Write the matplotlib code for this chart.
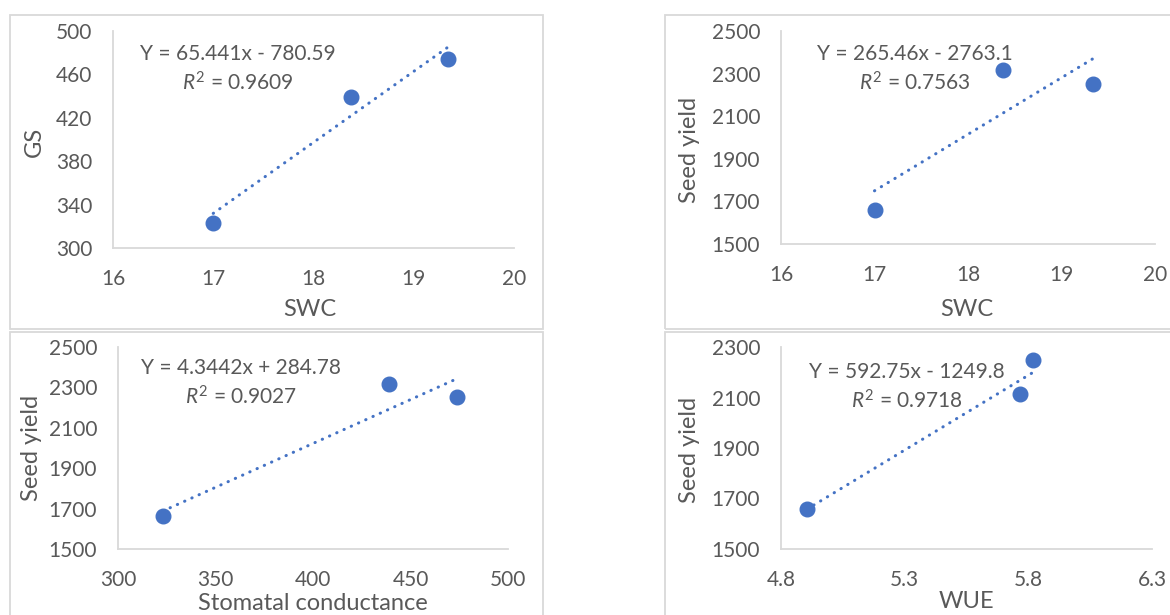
import matplotlib
matplotlib.use('Agg')
import matplotlib.pyplot as plt
from matplotlib.patches import Rectangle
import numpy as np

# values
swc = [17.0, 18.37, 19.34]
gs = [323, 439, 474]
seed_yield = [1661, 2316, 2250]
wue = [4.905, 5.768, 5.818]
seed_yield_wue = [1660, 2115, 2250]

trend_slope = [65.441, 265.46, 4.3442, 592.75]
trend_intercept = [-780.59, -2763.1, 284.78, -1249.8]
eq_labels = ['Y = 65.441x - 780.59', 'Y = 265.46x - 2763.1',
             'Y = 4.3442x + 284.78', 'Y = 592.75x - 1249.8']
r2_labels = ['0.9609', '0.7563', '0.9027', '0.9718']

W, H = 1170, 615
TEXT = '#595959'
GRID = '#D9D9D9'
BLUE = '#4472C4'

plt.rcParams['font.family'] = ['Lato', 'DejaVu Sans']
plt.rcParams['mathtext.fontset'] = 'custom'
plt.rcParams['mathtext.it'] = 'Lato:italic'
plt.rcParams['mathtext.rm'] = 'Lato'

fig = plt.figure(figsize=(W / 100, H / 100), dpi=100)


def fx(x):
    return x / W


def fy(y):
    return 1 - y / H


def box(l, t, r, b):
    fig.patches.append(Rectangle((fx(l), fy(b)), fx(r - l), (b - t) / H,
                                 transform=fig.transFigure, fill=False,
                                 edgecolor=GRID, lw=1.3))


def panel(rect, x, y, xlim, xticks, ylim, yticks, i, eq_pos, xlabel, xlab_pos):
    l, t, r, b = rect
    ax = fig.add_axes([fx(l), fy(b), fx(r - l), (b - t) / H])
    ax.plot(x, y, 'o', color=BLUE, markersize=10.5, zorder=3, clip_on=False)
    xs = np.array([min(x), max(x)])
    ax.plot(xs, trend_slope[i] * xs + trend_intercept[i], color=BLUE, lw=2.2,
            linestyle=(0, (0.1, 2.5)), dash_capstyle='round', zorder=2)
    ax.set_xlim(*xlim)
    ax.set_ylim(*ylim)
    ax.set_xticks(xticks)
    ax.set_yticks(yticks)
    ax.tick_params(length=0, labelsize=15, labelcolor=TEXT)
    ax.tick_params(axis='x', pad=15)
    ax.tick_params(axis='y', pad=15)
    for s in ['top', 'right']:
        ax.spines[s].set_visible(False)
    for s in ['left', 'bottom']:
        ax.spines[s].set_color(GRID)
        ax.spines[s].set_linewidth(1.3)
    ex, ey = eq_pos
    fig.text(fx(ex), fy(ey), eq_labels[i], ha='center', va='center', fontsize=15, color=TEXT)
    fig.text(fx(ex), fy(ey + 29), r'$\mathit{R}^{\mathrm{2}}$ = ' + r2_labels[i], ha='center',
             va='center', fontsize=15, color=TEXT)
    fig.text(fx(xlab_pos[0]), fy(xlab_pos[1]), xlabel, ha='center', va='center',
             fontsize=17, color=TEXT)
    return ax


box(10, 15, 543, 329)
box(665, 15, 1200, 329)
box(10, 332, 543, 640)
box(665, 332, 1200, 640)

panel((113, 31, 514, 248), swc, gs, (16, 20), [16, 17, 18, 19, 20],
      (300, 500), [300, 340, 380, 420, 460, 500], 0, (238, 54), 'SWC', (310, 310))
fig.text(fx(34), fy(142), 'GS', rotation=90, ha='center', va='center', fontsize=17, color=TEXT)

panel((781, 31, 1155, 244), swc, seed_yield, (16, 20), [16, 17, 18, 19, 20],
      (1500, 2500), [1500, 1700, 1900, 2100, 2300, 2500], 1, (915, 54), 'SWC', (967, 310))
fig.text(fx(690), fy(150), 'Seed yield', rotation=90, ha='center', va='center', fontsize=17, color=TEXT)

panel((118, 347, 508, 549), gs, seed_yield, (300, 500), [300, 350, 400, 450, 500],
      (1500, 2500), [1500, 1700, 1900, 2100, 2300, 2500], 2, (241, 368),
      'Stomatal conductance', (313, 603))
fig.text(fx(32), fy(448), 'Seed yield', rotation=90, ha='center', va='center', fontsize=17, color=TEXT)

ax4 = panel((781, 347, 1152, 549), wue, seed_yield_wue, (4.8, 6.3), [4.8, 5.3, 5.8, 6.3],
            (1500, 2300), [1500, 1700, 1900, 2100, 2300], 3, (907, 372), 'WUE', (966, 602))
ax4.set_xticklabels(['4.8', '5.3', '5.8', '6.3'])
fig.text(fx(690), fy(450), 'Seed yield', rotation=90, ha='center', va='center', fontsize=17, color=TEXT)

fig.savefig('out.png', dpi=100)
plt.close(fig)
